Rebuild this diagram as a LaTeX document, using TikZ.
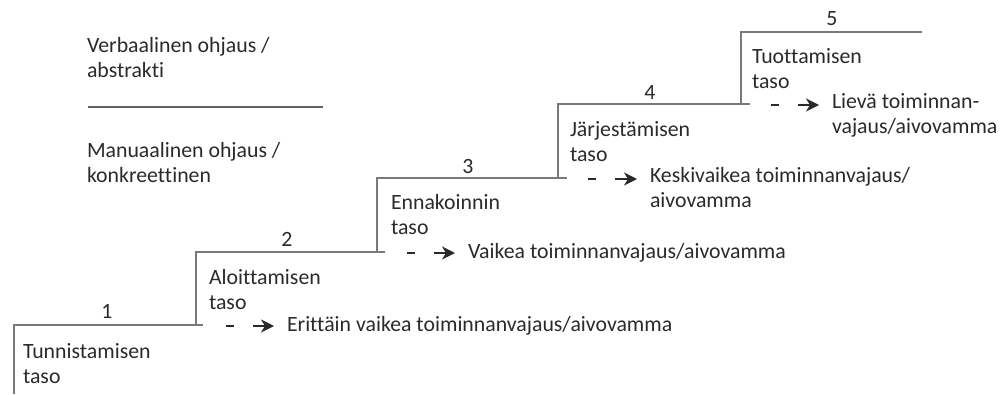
\documentclass[tikz,border=0pt]{standalone}
\usepackage{fontspec}
\setmainfont{Carlito}[Ligatures={NoCommon}]
\usetikzlibrary{arrows.meta}
\definecolor{ink}{HTML}{2A2A2A}
\definecolor{rule}{HTML}{7A7A7A}
\begin{document}
\begin{tikzpicture}[x=1pt,y=-1pt,
  every node/.style={inner sep=0pt, outer sep=0pt, text=ink, font=\fontsize{21.8}{25}\selectfont},
  stair/.style={draw=rule, line width=1.3pt},
  sep/.style={draw=rule!80!black, line width=1.6pt},
  lvl/.style={anchor=west, align=left},
  num/.style={anchor=center},
  dashmark/.style={draw=ink, line width=1.7pt},
  pointer/.style={draw=ink, line width=1.8pt, -{Stealth[length=13pt,width=13pt,inset=4pt]}},
  outcome/.style={anchor=west, align=left}]
\useasboundingbox (0,0) rectangle (1008,394);

% corners of the staircase
\coordinate (c0) at (14,394);
\coordinate (c1) at (14,325);
\coordinate (c2) at (196,325);
\coordinate (c3) at (196,252);
\coordinate (c4) at (377,252);
\coordinate (c5) at (377,178);
\coordinate (c6) at (558,178);
\coordinate (c7) at (558,104);
\coordinate (c8) at (741,104);
\coordinate (c9) at (741,32);
\coordinate (c10) at (922,32);

% treads and risers
\draw[stair] (c0) -- (c1) -- ([xshift=7pt]c2);
\draw[stair] (c2) -- (c3) -- ([xshift=8pt]c4);
\draw[stair] (c4) -- (c5) -- ([xshift=9pt]c6);
\draw[stair] (c6) -- (c7) -- ([xshift=9pt]c8);
\draw[stair] (c8) -- (c9) -- (c10);

% step numbers
\node[num] (n1) at (107,311) {1};
\node[num] (n2) at (287,239) {2};
\node[num] (n3) at (468,166) {3};
\node[num] (n4) at (650,92) {4};
\node[num] (n5) at (832,19) {5};

% level names
\node[lvl] (l1) at (23,364) {Tunnistamisen\\taso};
\node[lvl] (l2) at (209,290) {Aloittamisen\\taso};
\node[lvl] (l3) at (391,215) {Ennakoinnin\\taso};
\node[lvl] (l4) at (570,142) {Järjestämisen\\taso};
\node[lvl] (l5) at (752,69) {Tuottamisen\\taso};

% outcomes
\node[outcome] (o1) at (287,326) {Erittäin vaikea toiminnanvajaus/aivovamma};
\node[outcome] (o2) at (468,253) {Vaikea toiminnanvajaus/aivovamma};
\node[outcome, anchor=north west] (o3) at (650,167) {Keskivaikea toiminnanvajaus/\\aivovamma};
\node[outcome, anchor=north west] (o4) at (832,93) {Lievä toiminnan-\\vajaus/aivovamma};

% dash and pointer in front of each outcome
\foreach \i/\x/\y in {1/196/326, 2/377/253, 3/558/179, 4/741/105}{
  \coordinate (d\i a) at (\x+30,\y);
  \coordinate (d\i b) at (\x+38,\y);
  \coordinate (p\i) at (\x+57,\y);
  \draw[dashmark] (d\i a) -- (d\i b);
}
\draw[pointer] (p1) -- ([xshift=-13pt]o1.west |- p1);
\draw[pointer] (p2) -- ([xshift=-13pt]o2.west |- p2);
\draw[pointer] (p3) -- ([xshift=-13pt]o3.west |- p3);
\draw[pointer] (p4) -- ([xshift=-13pt]o4.west |- p4);

% guidance scale on the left
\node[lvl] (v) at (87,58) {Verbaalinen ohjaus /\\abstrakti};
\coordinate (sa) at (88,107);
\coordinate (sb) at (323,107);
\draw[sep] (sa) -- (sb);
\node[lvl] (m) at (87,163) {Manuaalinen ohjaus /\\konkreettinen};
\end{tikzpicture}
\end{document}
